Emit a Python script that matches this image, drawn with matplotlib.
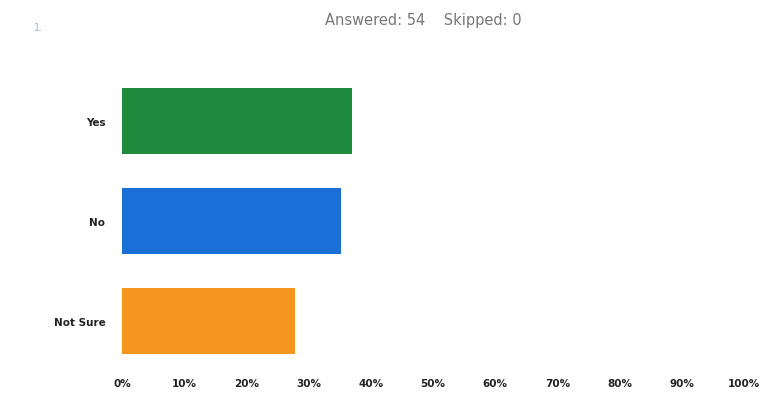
import matplotlib
matplotlib.use("Agg")
import matplotlib.pyplot as plt

categories = ["Yes", "No", "Not Sure"]
percentages = [37.04, 35.19, 27.78]
colors = ["#1e8a3e", "#1b6fd6", "#f7961e"]
tick_values = [0, 10, 20, 30, 40, 50, 60, 70, 80, 90, 100]
tick_labels = ["0%", "10%", "20%", "30%", "40%", "50%", "60%", "70%", "80%", "90%", "100%"]
header = "Answered: 54    Skipped: 0"

fig = plt.figure(figsize=(7.65, 4.02), dpi=100)
ax = fig.add_axes([0.1595, 0.0746, 0.813, 0.746])

y = list(range(len(categories)))
ax.barh(y, percentages, height=0.66, color=colors)
ax.set_xlim(0, 100)
ax.set_ylim(len(categories) - 0.5, -0.5)
ax.set_yticks(y)
ax.set_yticklabels(categories, fontsize=7.5, color="#222222", fontweight="semibold")
ax.set_xticks(tick_values)
ax.set_xticklabels(tick_labels, fontsize=7.5, color="#222222", fontweight="semibold")
ax.tick_params(axis="both", length=0)
ax.tick_params(axis="y", pad=12)
ax.tick_params(axis="x", pad=5)
for s in ax.spines.values():
    s.set_visible(False)

fig.text(0.553, 0.95, header, ha="center", va="center", fontsize=10.5, color="#777777")
fig.text(0.05, 0.93, "1.", ha="center", va="center", fontsize=7, color="#9bb8cc")

fig.savefig("out.png", dpi=100)
